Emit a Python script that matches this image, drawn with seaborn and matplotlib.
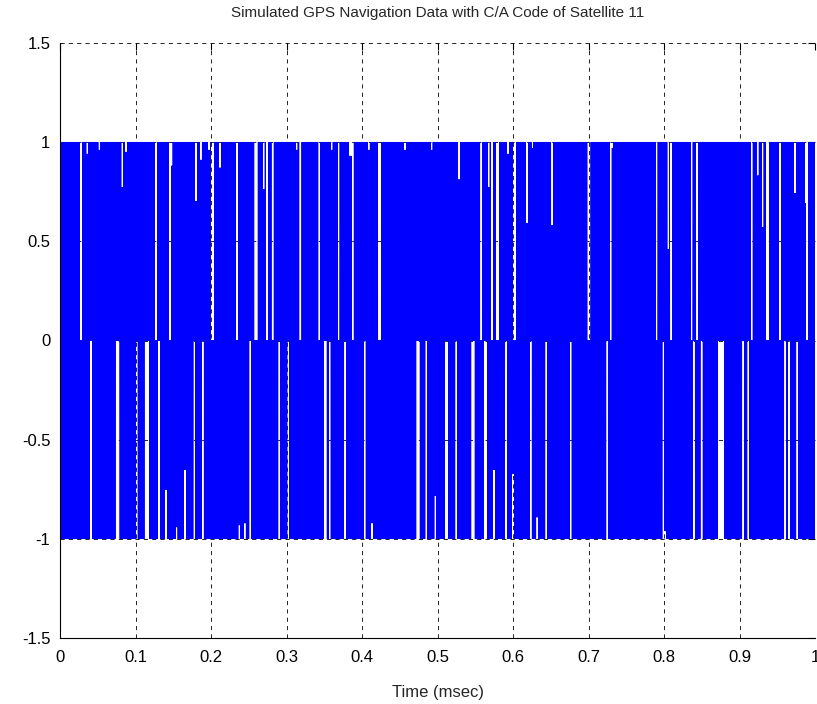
import numpy as np
import pandas as pd
import matplotlib
matplotlib.use("Agg")
import matplotlib.pyplot as plt
import seaborn as sns

# ---- signal description -------------------------------------------------
# The BPSK waveform swings between +1 and -1 on every sample; its envelope is
# flat except where the C/A code holds one polarity long enough to leave a
# dropout. Times in ms.

# columns where the waveform never rises above 0 (upper half empty)
upper_gap_t = [0.0278, 0.1272, 0.1457, 0.2020, 0.2344, 0.2596, 0.2742, 0.2817,
               0.3183, 0.3434, 0.3691, 0.3877, 0.4234, 0.5580, 0.5722, 0.5792,
               0.6023, 0.7007, 0.7294, 0.7903, 0.8097, 0.8367, 0.8441, 0.9162,
               0.9373, 0.9536, 0.9894]
upper_gap_w = [0.0034, 0.0034, 0.0034, 0.0050, 0.0034, 0.0050, 0.0034, 0.0034,
               0.0034, 0.0034, 0.0034, 0.0034, 0.0050, 0.0034, 0.0034, 0.0050,
               0.0050, 0.0050, 0.0034, 0.0034, 0.0034, 0.0034, 0.0034, 0.0034,
               0.0050, 0.0034, 0.0034]

# columns where the waveform never falls below 0 (lower half empty)
lower_gap_t = [0.0411, 0.0762, 0.1016, 0.1152, 0.1311, 0.1779, 0.1890, 0.2521,
               0.2905, 0.3024, 0.3514, 0.3572, 0.3779, 0.4036, 0.4742, 0.4852,
               0.5117, 0.5249, 0.5470, 0.5638, 0.5911, 0.6234, 0.6441, 0.6764,
               0.7249, 0.7991, 0.8397, 0.8499, 0.8755, 0.9050, 0.9116, 0.9603,
               0.9656, 0.9766]
lower_gap_w = [0.0034, 0.0058, 0.0034, 0.0070, 0.0034, 0.0034, 0.0034, 0.0034,
               0.0034, 0.0034, 0.0048, 0.0034, 0.0034, 0.0034, 0.0050, 0.0034,
               0.0052, 0.0034, 0.0050, 0.0050, 0.0034, 0.0034, 0.0034, 0.0034,
               0.0034, 0.0034, 0.0034, 0.0034, 0.0095, 0.0034, 0.0034, 0.0034,
               0.0034, 0.0034]

# short columns whose peak stays below +1
upper_dip_t = [0.0362, 0.0521, 0.0825, 0.0874, 0.1477, 0.1801, 0.1868, 0.1974,
               0.2119, 0.2698, 0.3135, 0.3599, 0.3841, 0.4089, 0.4570, 0.4923,
               0.5285, 0.5678, 0.5934, 0.6185, 0.6256, 0.6517, 0.7311, 0.8057,
               0.9241, 0.9307, 0.9735, 0.9877]
upper_dip_level = [0.94, 0.96, 0.77, 0.95, 0.88, 0.70, 0.91, 0.96,
                   0.87, 0.76, 0.96, 0.96, 0.93, 0.96, 0.96, 0.96,
                   0.81, 0.77, 0.94, 0.59, 0.97, 0.58, 0.97, 0.46,
                   0.83, 0.57, 0.74, 0.69]

# short columns whose trough stays above -1
lower_dip_t = [0.1404, 0.1546, 0.1656, 0.2375, 0.2446, 0.4132, 0.4971, 0.5748,
               0.6000, 0.6322, 0.8013]
lower_dip_level = [-0.75, -0.94, -0.65, -0.93, -0.92, -0.92, -0.78, -0.65,
                   -0.67, -0.89, -0.96]

x_ticks = [0, 0.1, 0.2, 0.3, 0.4, 0.5, 0.6, 0.7, 0.8, 0.9, 1.0]
x_tick_labels = ["0", "0.1", "0.2", "0.3", "0.4", "0.5", "0.6", "0.7", "0.8",
                 "0.9", "1"]
y_ticks = [-1.5, -1, -0.5, 0, 0.5, 1, 1.5]
y_tick_labels = ["-1.5", "-1", "-0.5", "0", "0.5", "1", "1.5"]

# ---- build the sampled waveform ----------------------------------------
n_samples = 5000
t = np.linspace(0.0, 1.0, n_samples + 1)
hi = np.ones_like(t)
lo = -np.ones_like(t)
for c, w in zip(upper_gap_t, upper_gap_w):
    hi[np.abs(t - c) <= w / 2] = 0.0
for c, w in zip(lower_gap_t, lower_gap_w):
    lo[np.abs(t - c) <= w / 2] = 0.0
for c, lvl in zip(upper_dip_t, upper_dip_level):
    m = np.abs(t - c) <= 0.0016
    hi[m] = np.minimum(hi[m], lvl)
for c, lvl in zip(lower_dip_t, lower_dip_level):
    m = np.abs(t - c) <= 0.0016
    lo[m] = np.maximum(lo[m], lvl)
signal = np.where(np.arange(t.size) % 2 == 0, hi, lo)
df = pd.DataFrame({"Time (msec)": t, "amplitude": signal})

# ---- figure --------------------------------------------------------------
sns.set_style("white")
plt.rcParams["font.family"] = ["Liberation Sans", "DejaVu Sans"]

fig = plt.figure(figsize=(8.17, 7.04), dpi=100)
ax = fig.add_axes([60 / 817, 66 / 704, 755 / 817, 595 / 704])

sns.lineplot(data=df, x="Time (msec)", y="amplitude", estimator=None,
             sort=False, color="#0000ff", linewidth=0.4, ax=ax)

ax.set_xlim(0, 1)
ax.set_ylim(-1.5, 1.5)
ax.set_xticks(x_ticks)
ax.set_xticklabels(x_tick_labels)
ax.set_yticks(y_ticks)
ax.set_yticklabels(y_tick_labels)
ax.set_ylabel("")
ax.set_xlabel("Time (msec)", fontsize=12, labelpad=14)
ax.set_title("Simulated GPS Navigation Data with C/A Code of Satellite 11",
             fontsize=11, pad=19)

ax.grid(True, color="black", linestyle=(0, (5, 5)), linewidth=0.6)
ax.set_axisbelow("line")
ax.tick_params(direction="in", length=5, width=0.8, top=True, right=True,
               labelsize=12, colors="black")
ax.tick_params(axis="x", pad=9)
ax.tick_params(axis="y", pad=7)
for side in ("top", "right"):
    ax.spines[side].set_visible(False)
for side in ("left", "bottom"):
    ax.spines[side].set_color("black")
    ax.spines[side].set_linewidth(0.8)

fig.savefig("out.png", dpi=100)
